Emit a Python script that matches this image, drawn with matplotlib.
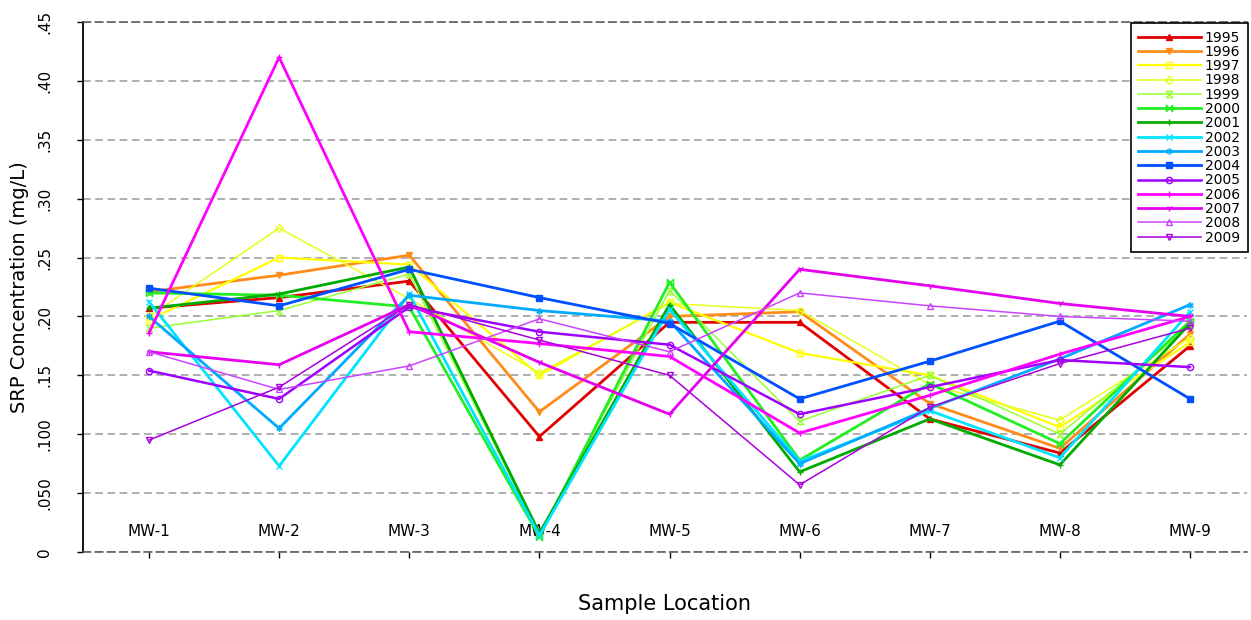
import numpy as np
import matplotlib.pyplot as plt

# sampling wells along the transect
locations = ['MW-1', 'MW-2', 'MW-3', 'MW-4', 'MW-5', 'MW-6', 'MW-7', 'MW-8', 'MW-9']

# SRP concentration (mg/L) per year at each well
srp_1995 = [0.207, 0.216, 0.230, 0.098, 0.195, 0.195, 0.113, 0.084, 0.175]
srp_1996 = [0.221, 0.235, 0.252, 0.119, 0.200, 0.204, 0.126, 0.088, 0.185]
srp_1997 = [0.197, 0.250, 0.244, 0.150, 0.212, 0.169, 0.150, 0.106, 0.178]
srp_1998 = [0.200, 0.275, 0.215, 0.152, 0.211, 0.205, 0.142, 0.112, 0.182]
srp_1999 = [0.190, 0.205, 0.236, 0.015, 0.222, 0.111, 0.150, 0.100, 0.192]
srp_2000 = [0.220, 0.218, 0.208, 0.013, 0.229, 0.078, 0.143, 0.092, 0.196]
srp_2001 = [0.207, 0.219, 0.242, 0.016, 0.210, 0.068, 0.113, 0.074, 0.194]
srp_2002 = [0.2125, 0.073, 0.219, 0.014, 0.206, 0.077, 0.120, 0.080, 0.204]
srp_2003 = [0.200, 0.105, 0.218, 0.205, 0.196, 0.075, 0.122, 0.164, 0.210]
srp_2004 = [0.224, 0.209, 0.240, 0.216, 0.194, 0.130, 0.162, 0.196, 0.130]
srp_2005 = [0.154, 0.130, 0.208, 0.187, 0.176, 0.117, 0.140, 0.163, 0.157]
srp_2006 = [0.186, 0.420, 0.187, 0.177, 0.166, 0.101, 0.133, 0.168, 0.200]
srp_2007 = [0.170, 0.159, 0.210, 0.161, 0.117, 0.240, 0.226, 0.211, 0.200]
srp_2008 = [0.170, 0.138, 0.158, 0.198, 0.170, 0.220, 0.209, 0.200, 0.196]
srp_2009 = [0.095, 0.140, 0.210, 0.180, 0.150, 0.057, 0.123, 0.160, 0.190]

years = ['1995', '1996', '1997', '1998', '1999', '2000', '2001', '2002',
         '2003', '2004', '2005', '2006', '2007', '2008', '2009']
series = [srp_1995, srp_1996, srp_1997, srp_1998, srp_1999, srp_2000, srp_2001,
          srp_2002, srp_2003, srp_2004, srp_2005, srp_2006, srp_2007, srp_2008,
          srp_2009]

yticks = [0, 0.05, 0.10, 0.15, 0.20, 0.25, 0.30, 0.35, 0.40, 0.45]
ytick_labels = ['0', '.050', '.100', '.15', '.20', '.25', '.30', '.35', '.40', '.45']

# bowtie / hourglass marker outlines
bowtie = [(-1, -1), (1, 1), (1, -1), (-1, 1), (-1, -1)]
hourglass = [(-1, -1), (1, 1), (-1, 1), (1, -1), (-1, -1)]

colors = ['#e00000', '#ff8c1a', '#ffff00', '#e6ff1a', '#99ff33', '#22ee22',
          '#00aa00', '#00e5ff', '#00aaff', '#0050ff', '#a000ff', '#ff00ff',
          '#e600f0', '#cc44ff', '#aa00dd']
markers = ['^', 'v', 's', 'D', hourglass, bowtie, '+', 'x', (6, 2, 0), 's',
           'o', '+', '1', '^', 'v']
filled = [True, True, False, False, False, False, True, True, True, True,
          False, True, True, False, False]
widths = [2.0, 2.0, 1.6, 1.1, 1.1, 2.0, 2.0, 2.0, 2.0, 2.0,
          1.8, 2.0, 2.0, 1.1, 1.1]

fig = plt.figure(figsize=(12.51, 6.2), dpi=100)
ax = fig.add_axes([83 / 1251, 68 / 620, 1164 / 1251, 530 / 620])

x = np.arange(1, len(locations) + 1)
for yr, vals, c, m, f, lw in zip(years, series, colors, markers, filled, widths):
    ax.plot(x, vals, color=c, lw=lw, marker=m, markersize=4.5,
            markerfacecolor=c if f else 'none', markeredgecolor=c,
            markeredgewidth=1.0, label=yr)

ax.set_xlim(0.4927, 9.438)
ax.set_ylim(0, 0.45)

ax.set_yticks(yticks)
ax.set_yticklabels(ytick_labels, rotation=90, va='center', fontsize=11)
ax.tick_params(axis='y', direction='out', length=4, width=1, pad=18)

ax.set_xticks(x)
ax.set_xticklabels(locations, fontsize=11)
ax.tick_params(axis='x', direction='out', length=4.5, width=1, pad=-25)

ax.grid(axis='y', color='#999999', lw=1.1, ls=(0, (5, 3)))
ax.set_axisbelow(True)

for side in ['top', 'bottom']:
    ax.spines[side].set_linestyle((0, (5, 3)))
    ax.spines[side].set_color('#555555')
    ax.spines[side].set_linewidth(1.1)
ax.spines['right'].set_visible(False)
ax.spines['left'].set_linewidth(1.3)

ax.set_ylabel('SRP Concentration (mg/L)', fontsize=14)
ax.yaxis.set_label_coords(-0.0465, 0.5)
ax.set_xlabel('Sample Location', fontsize=15)
ax.xaxis.set_label_coords(0.5, -0.08)

leg = ax.legend(loc='upper right', bbox_to_anchor=(1248 / 1251, 1 - 23 / 620),
                bbox_transform=fig.transFigure, borderaxespad=0, fontsize=10,
                handlelength=4.5, handletextpad=0.3, borderpad=0.55,
                labelspacing=0.02, fancybox=False, framealpha=1)
leg.get_frame().set_edgecolor('black')
leg.get_frame().set_linewidth(1.2)

fig.savefig('out.png', dpi=100)
